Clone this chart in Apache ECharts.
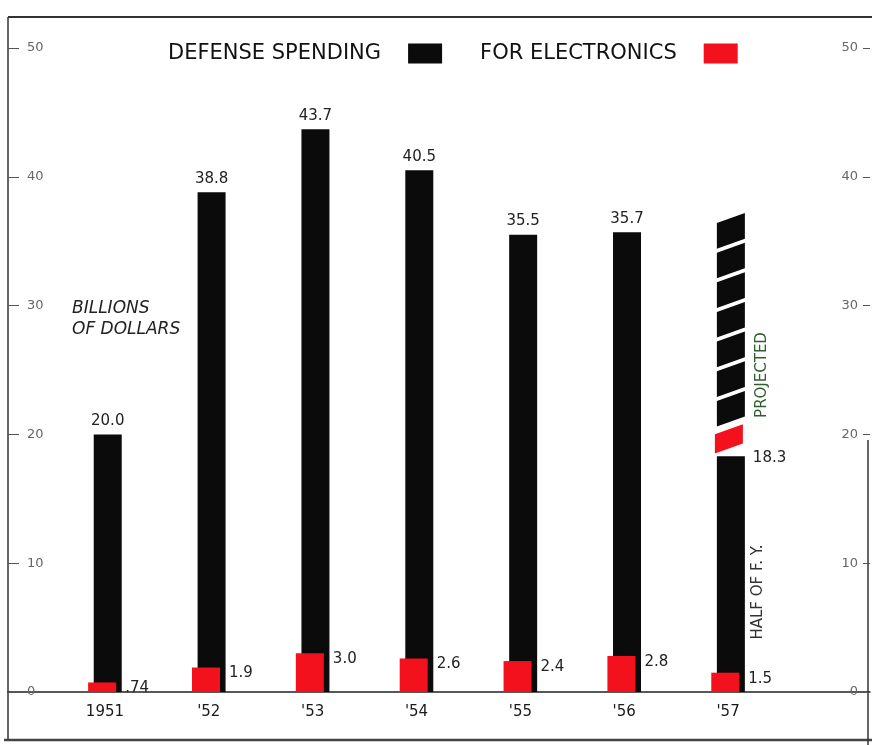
<!DOCTYPE html>
<html>
<head>
<meta charset="utf-8">
<script src="https://cdn.jsdelivr.net/npm/echarts@6/dist/echarts.min.js"></script>
<style>
html,body{margin:0;padding:0;background:#fff;}
#chart{width:872px;height:745px;}
</style>
</head>
<body>
<div id="chart"></div>
<script>
// ---- data ----
const categories = ['1951', "'52", "'53", "'54", "'55", "'56", "'57"];
const defenseSpending = [20.0, 38.8, 43.7, 40.5, 35.5, 35.7, 18.3];
const electronicsSpending = [0.74, 1.9, 3.0, 2.6, 2.4, 2.8, 1.5];
const electronicsLabels = ['.74', '1.9', '3.0', '2.6', '2.4', '2.8', '1.5'];
const projectedCategory = "'57";
const projectedElectronicsRange = [18.9, 20.4];
const projectedDefenseRange = [21.0, 36.8];
const yMin = 0, yMax = 50, yInterval = 10;

// ---- styling ----
const BLACK = '#0b0b0b';
const RED = '#f2111c';
const BAR_W = 28;
const FONT = 'DejaVu Sans';

const chart = echarts.init(document.getElementById('chart'));

const projIdx = categories.indexOf(projectedCategory);
const projectedData = [[projIdx, projectedElectronicsRange[0], projectedElectronicsRange[1], projectedDefenseRange[0], projectedDefenseRange[1]]];

function renderProjected(params, api) {
  const idx = api.value(0);
  const base = api.coord([idx, 0]);
  const cx = base[0] + 2.8;
  const x0 = cx - BAR_W / 2, x1 = cx + BAR_W / 2;
  const s = 5;
  const children = [];
  const r1 = api.coord([idx, api.value(1)])[1];
  const r2 = api.coord([idx, api.value(2)])[1];
  children.push({
    type: 'polygon',
    shape: { points: [[x0 - 2, r1 + s], [x1 - 2, r1 - s], [x1 - 2, r2 - s], [x0 - 2, r2 + s]] },
    style: { fill: RED }
  });
  const yb = api.coord([idx, api.value(3)])[1];
  const yt = api.coord([idx, api.value(4)])[1];
  const n = 7, gap = 4;
  const h = (yb - yt - gap * (n - 1)) / n;
  for (let i = 0; i < n; i++) {
    const b = yb - i * (h + gap);
    const t = b - h;
    children.push({
      type: 'polygon',
      shape: { points: [[x0, b + s], [x1, b - s], [x1, t - s], [x0, t + s]] },
      style: { fill: BLACK }
    });
  }
  return { type: 'group', children };
}

const option = {
  backgroundColor: '#ffffff',
  animation: false,
  legend: {
    data: ['DEFENSE SPENDING', 'FOR ELECTRONICS'],
    left: 163,
    top: 38,
    align: 'right',
    itemWidth: 34,
    itemHeight: 20,
    itemGap: 38,
    icon: 'rect',
    textStyle: { fontSize: 21, color: '#111', fontFamily: FONT, padding: [0, 22, 0, 0] }
  },
  grid: [
    { left: 8, right: 2, top: 48, bottom: 53 },
    { left: 53, width: 727, top: 48, bottom: 53 }
  ],
  xAxis: [
    {
      gridIndex: 0, type: 'value', min: 0, max: 1,
      axisLine: { show: true, lineStyle: { color: '#222', width: 1.5 } },
      axisTick: { show: false }, axisLabel: { show: false }, splitLine: { show: false }
    },
    {
      gridIndex: 1, type: 'category', data: categories,
      axisLine: { show: false }, axisTick: { show: false },
      axisLabel: { margin: 13, fontSize: 15, color: '#1a1a1a', fontFamily: FONT }
    }
  ],
  yAxis: [
    {
      gridIndex: 0, type: 'value', position: 'left', min: yMin, max: yMax, interval: yInterval,
      axisLine: { show: false },
      axisTick: { show: true, inside: true, length: 11, lineStyle: { color: '#555' } },
      axisLabel: { inside: true, margin: 19, fontSize: 13, color: '#666', fontFamily: FONT },
      splitLine: { show: false }
    },
    {
      gridIndex: 0, type: 'value', position: 'right', min: yMin, max: yMax, interval: yInterval,
      axisLine: { show: false },
      axisTick: { show: true, inside: true, length: 7, lineStyle: { color: '#555' } },
      axisLabel: { inside: true, margin: 12, fontSize: 13, color: '#666', fontFamily: FONT },
      splitLine: { show: false }
    },
    {
      gridIndex: 1, type: 'value', min: yMin, max: yMax, interval: yInterval, show: false
    }
  ],
  series: [
    {
      name: 'FOR ELECTRONICS',
      type: 'bar',
      xAxisIndex: 1, yAxisIndex: 2,
      barWidth: BAR_W,
      barGap: '-80%',
      z: 4,
      itemStyle: { color: RED },
      data: electronicsSpending,
      label: {
        show: true,
        position: ['100%', 0],
        offset: [9, 6],
        align: 'left',
        verticalAlign: 'middle',
        fontSize: 15,
        color: '#222',
        fontFamily: FONT,
        formatter: p => electronicsLabels[p.dataIndex]
      }
    },
    {
      name: 'DEFENSE SPENDING',
      type: 'bar',
      xAxisIndex: 1, yAxisIndex: 2,
      barWidth: BAR_W,
      barGap: '-80%',
      z: 2,
      itemStyle: { color: BLACK },
      data: defenseSpending.map((v, i) => i === projIdx ? {
        value: v,
        label: { position: ['100%', 0], offset: [8, 2], align: 'left', verticalAlign: 'middle' }
      } : v),
      label: {
        show: true,
        position: 'top',
        distance: 6,
        fontSize: 15,
        color: '#222',
        fontFamily: FONT,
        formatter: p => p.value.toFixed(1)
      }
    },
    {
      name: 'projected',
      type: 'custom',
      xAxisIndex: 1, yAxisIndex: 2,
      z: 3,
      renderItem: renderProjected,
      encode: { x: 0, y: [1, 2, 3, 4] },
      data: projectedData
    }
  ],
  graphic: [
    { type: 'line', shape: { x1: 8, y1: 17, x2: 872, y2: 17 }, style: { stroke: '#333', lineWidth: 2 } },
    { type: 'line', shape: { x1: 8, y1: 17, x2: 8, y2: 740 }, style: { stroke: '#333', lineWidth: 1.5 } },
    { type: 'line', shape: { x1: 4, y1: 740, x2: 872, y2: 740 }, style: { stroke: '#444', lineWidth: 2.5 } },
    { type: 'line', shape: { x1: 868, y1: 440, x2: 868, y2: 745 }, style: { stroke: '#333', lineWidth: 1.5 } },
    {
      type: 'text', left: 72, top: 298,
      style: { text: 'BILLIONS\nOF DOLLARS', font: 'italic 17px "DejaVu Sans"', fill: '#222', lineHeight: 21 }
    },
    {
      type: 'text', x: 762, y: 375, rotation: Math.PI / 2,
      style: { text: 'PROJECTED', font: '15px "DejaVu Sans"', fill: '#2f5f2f', align: 'center', verticalAlign: 'middle' }
    },
    {
      type: 'text', x: 758, y: 592, rotation: Math.PI / 2,
      style: { text: 'HALF OF F. Y.', font: '15px "DejaVu Sans"', fill: '#333', align: 'center', verticalAlign: 'middle' }
    }
  ]
};

chart.setOption(option);
</script>
</body>
</html>
